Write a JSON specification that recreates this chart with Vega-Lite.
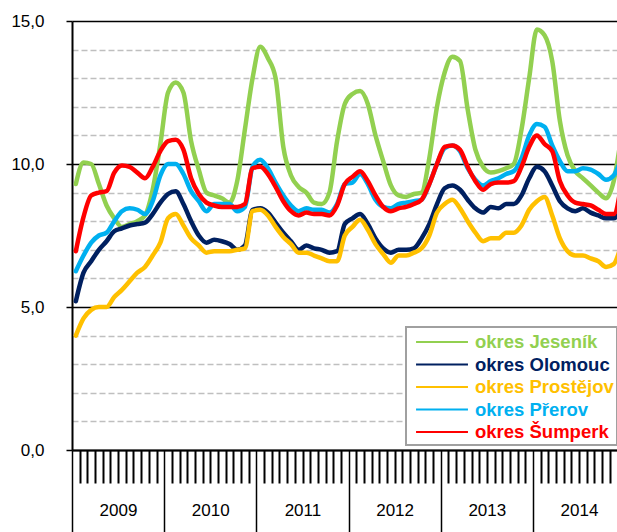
{
  "$schema": "https://vega.github.io/schema/vega-lite/v6.json",
  "width": 545,
  "height": 429,
  "autosize": {"type": "none"},
  "padding": {"left": 72, "top": 21, "right": 0, "bottom": 82},
  "background": "white",
  "data": {
    "values": [
      {"m": 1, "okres Jeseník": 9.3, "okres Olomouc": 5.2, "okres Prostějov": 4.0, "okres Přerov": 6.25, "okres Šumperk": 6.95},
      {"m": 2, "okres Jeseník": 10.05, "okres Olomouc": 6.2, "okres Prostějov": 4.6, "okres Přerov": 6.8, "okres Šumperk": 8.15},
      {"m": 3, "okres Jeseník": 10.0, "okres Olomouc": 6.6, "okres Prostějov": 4.9, "okres Přerov": 7.25, "okres Šumperk": 8.9},
      {"m": 4, "okres Jeseník": 9.3, "okres Olomouc": 7.0, "okres Prostějov": 5.0, "okres Přerov": 7.5, "okres Šumperk": 9.0},
      {"m": 5, "okres Jeseník": 8.55, "okres Olomouc": 7.3, "okres Prostějov": 5.0, "okres Přerov": 7.6, "okres Šumperk": 9.05},
      {"m": 6, "okres Jeseník": 8.1, "okres Olomouc": 7.65, "okres Prostějov": 5.35, "okres Přerov": 8.0, "okres Šumperk": 9.7},
      {"m": 7, "okres Jeseník": 7.8, "okres Olomouc": 7.75, "okres Prostějov": 5.6, "okres Přerov": 8.35, "okres Šumperk": 9.95},
      {"m": 8, "okres Jeseník": 7.9, "okres Olomouc": 7.85, "okres Prostějov": 5.9, "okres Přerov": 8.45, "okres Šumperk": 9.9},
      {"m": 9, "okres Jeseník": 8.0, "okres Olomouc": 7.9, "okres Prostějov": 6.2, "okres Přerov": 8.4, "okres Šumperk": 9.7},
      {"m": 10, "okres Jeseník": 8.2, "okres Olomouc": 7.95, "okres Prostějov": 6.4, "okres Přerov": 8.25, "okres Šumperk": 9.5},
      {"m": 11, "okres Jeseník": 9.1, "okres Olomouc": 8.25, "okres Prostějov": 6.8, "okres Přerov": 8.7, "okres Šumperk": 9.9},
      {"m": 12, "okres Jeseník": 10.7, "okres Olomouc": 8.65, "okres Prostějov": 7.25, "okres Přerov": 9.6, "okres Šumperk": 10.45},
      {"m": 13, "okres Jeseník": 12.5, "okres Olomouc": 8.95, "okres Prostějov": 8.1, "okres Přerov": 10.0, "okres Šumperk": 10.8},
      {"m": 14, "okres Jeseník": 12.85, "okres Olomouc": 9.05, "okres Prostějov": 8.25, "okres Přerov": 10.0, "okres Šumperk": 10.85},
      {"m": 15, "okres Jeseník": 12.5, "okres Olomouc": 8.6, "okres Prostějov": 7.85, "okres Přerov": 9.65, "okres Šumperk": 10.5},
      {"m": 16, "okres Jeseník": 10.8, "okres Olomouc": 8.0, "okres Prostějov": 7.4, "okres Přerov": 9.05, "okres Šumperk": 9.5},
      {"m": 17, "okres Jeseník": 9.8, "okres Olomouc": 7.5, "okres Prostějov": 7.15, "okres Přerov": 8.7, "okres Šumperk": 8.95},
      {"m": 18, "okres Jeseník": 9.0, "okres Olomouc": 7.25, "okres Prostějov": 6.9, "okres Přerov": 8.35, "okres Šumperk": 8.65},
      {"m": 19, "okres Jeseník": 8.9, "okres Olomouc": 7.35, "okres Prostějov": 6.95, "okres Přerov": 8.6, "okres Šumperk": 8.55},
      {"m": 20, "okres Jeseník": 8.8, "okres Olomouc": 7.3, "okres Prostějov": 6.95, "okres Přerov": 8.6, "okres Šumperk": 8.5},
      {"m": 21, "okres Jeseník": 8.65, "okres Olomouc": 7.2, "okres Prostějov": 6.95, "okres Přerov": 8.6, "okres Šumperk": 8.5},
      {"m": 22, "okres Jeseník": 9.4, "okres Olomouc": 7.0, "okres Prostějov": 7.0, "okres Přerov": 8.35, "okres Šumperk": 8.5},
      {"m": 23, "okres Jeseník": 11.2, "okres Olomouc": 7.15, "okres Prostějov": 7.05, "okres Přerov": 8.5, "okres Šumperk": 8.6},
      {"m": 24, "okres Jeseník": 13.0, "okres Olomouc": 8.4, "okres Prostějov": 8.35, "okres Přerov": 9.9, "okres Šumperk": 9.85},
      {"m": 25, "okres Jeseník": 14.1, "okres Olomouc": 8.45, "okres Prostějov": 8.4, "okres Přerov": 10.15, "okres Šumperk": 9.9},
      {"m": 26, "okres Jeseník": 13.7, "okres Olomouc": 8.3, "okres Prostějov": 8.2, "okres Přerov": 9.85, "okres Šumperk": 9.65},
      {"m": 27, "okres Jeseník": 13.0, "okres Olomouc": 7.95, "okres Prostějov": 7.8, "okres Přerov": 9.35, "okres Šumperk": 9.2},
      {"m": 28, "okres Jeseník": 10.6, "okres Olomouc": 7.6, "okres Prostějov": 7.45, "okres Přerov": 8.9, "okres Šumperk": 8.7},
      {"m": 29, "okres Jeseník": 9.6, "okres Olomouc": 7.3, "okres Prostějov": 7.2, "okres Přerov": 8.55, "okres Šumperk": 8.35},
      {"m": 30, "okres Jeseník": 9.2, "okres Olomouc": 7.0, "okres Prostějov": 6.9, "okres Přerov": 8.35, "okres Šumperk": 8.2},
      {"m": 31, "okres Jeseník": 9.0, "okres Olomouc": 7.15, "okres Prostějov": 6.9, "okres Přerov": 8.45, "okres Šumperk": 8.3},
      {"m": 32, "okres Jeseník": 8.65, "okres Olomouc": 7.05, "okres Prostějov": 6.8, "okres Přerov": 8.4, "okres Šumperk": 8.25},
      {"m": 33, "okres Jeseník": 8.6, "okres Olomouc": 7.0, "okres Prostějov": 6.7, "okres Přerov": 8.4, "okres Šumperk": 8.25},
      {"m": 34, "okres Jeseník": 9.0, "okres Olomouc": 6.9, "okres Prostějov": 6.6, "okres Přerov": 8.3, "okres Šumperk": 8.2},
      {"m": 35, "okres Jeseník": 10.8, "okres Olomouc": 6.95, "okres Prostějov": 6.6, "okres Přerov": 8.6, "okres Šumperk": 8.55},
      {"m": 36, "okres Jeseník": 12.1, "okres Olomouc": 7.9, "okres Prostějov": 7.5, "okres Přerov": 9.3, "okres Šumperk": 9.3},
      {"m": 37, "okres Jeseník": 12.45, "okres Olomouc": 8.1, "okres Prostějov": 7.8, "okres Přerov": 9.35, "okres Šumperk": 9.55},
      {"m": 38, "okres Jeseník": 12.55, "okres Olomouc": 8.25, "okres Prostějov": 8.05, "okres Přerov": 9.65, "okres Šumperk": 9.75},
      {"m": 39, "okres Jeseník": 12.1, "okres Olomouc": 7.9, "okres Prostějov": 7.7, "okres Přerov": 9.3, "okres Šumperk": 9.4},
      {"m": 40, "okres Jeseník": 11.0, "okres Olomouc": 7.4, "okres Prostějov": 7.2, "okres Přerov": 8.75, "okres Šumperk": 8.9},
      {"m": 41, "okres Jeseník": 10.1, "okres Olomouc": 7.05, "okres Prostějov": 6.85, "okres Přerov": 8.5, "okres Šumperk": 8.5},
      {"m": 42, "okres Jeseník": 9.25, "okres Olomouc": 6.9, "okres Prostějov": 6.55, "okres Přerov": 8.45, "okres Šumperk": 8.35},
      {"m": 43, "okres Jeseník": 8.9, "okres Olomouc": 7.0, "okres Prostějov": 6.8, "okres Přerov": 8.6, "okres Šumperk": 8.45},
      {"m": 44, "okres Jeseník": 8.85, "okres Olomouc": 7.0, "okres Prostějov": 6.8, "okres Přerov": 8.65, "okres Šumperk": 8.5},
      {"m": 45, "okres Jeseník": 8.95, "okres Olomouc": 7.05, "okres Prostějov": 6.9, "okres Přerov": 8.7, "okres Šumperk": 8.6},
      {"m": 46, "okres Jeseník": 9.0, "okres Olomouc": 7.4, "okres Prostějov": 7.05, "okres Přerov": 8.75, "okres Šumperk": 8.75},
      {"m": 47, "okres Jeseník": 10.2, "okres Olomouc": 7.9, "okres Prostějov": 7.5, "okres Přerov": 9.3, "okres Šumperk": 9.3},
      {"m": 48, "okres Jeseník": 12.0, "okres Olomouc": 8.6, "okres Prostějov": 8.3, "okres Přerov": 10.0, "okres Šumperk": 10.0},
      {"m": 49, "okres Jeseník": 13.2, "okres Olomouc": 9.15, "okres Prostějov": 8.6, "okres Přerov": 10.55, "okres Šumperk": 10.6},
      {"m": 50, "okres Jeseník": 13.75, "okres Olomouc": 9.25, "okres Prostějov": 8.75, "okres Přerov": 10.65, "okres Šumperk": 10.65},
      {"m": 51, "okres Jeseník": 13.6, "okres Olomouc": 9.1, "okres Prostějov": 8.45, "okres Přerov": 10.45, "okres Šumperk": 10.5},
      {"m": 52, "okres Jeseník": 11.9, "okres Olomouc": 8.75, "okres Prostějov": 8.0, "okres Přerov": 9.85, "okres Šumperk": 9.9},
      {"m": 53, "okres Jeseník": 10.5, "okres Olomouc": 8.45, "okres Prostějov": 7.6, "okres Přerov": 9.45, "okres Šumperk": 9.4},
      {"m": 54, "okres Jeseník": 9.9, "okres Olomouc": 8.3, "okres Prostějov": 7.3, "okres Přerov": 9.25, "okres Šumperk": 9.1},
      {"m": 55, "okres Jeseník": 9.7, "okres Olomouc": 8.5, "okres Prostějov": 7.4, "okres Přerov": 9.4, "okres Šumperk": 9.3},
      {"m": 56, "okres Jeseník": 9.75, "okres Olomouc": 8.45, "okres Prostějov": 7.4, "okres Přerov": 9.5, "okres Šumperk": 9.35},
      {"m": 57, "okres Jeseník": 9.85, "okres Olomouc": 8.6, "okres Prostějov": 7.6, "okres Přerov": 9.65, "okres Šumperk": 9.35},
      {"m": 58, "okres Jeseník": 10.0, "okres Olomouc": 8.6, "okres Prostějov": 7.6, "okres Přerov": 9.75, "okres Šumperk": 9.4},
      {"m": 59, "okres Jeseník": 11.2, "okres Olomouc": 8.9, "okres Prostějov": 7.85, "okres Přerov": 10.2, "okres Šumperk": 9.9},
      {"m": 60, "okres Jeseník": 13.0, "okres Olomouc": 9.5, "okres Prostějov": 8.4, "okres Přerov": 11.0, "okres Šumperk": 10.6},
      {"m": 61, "okres Jeseník": 14.7, "okres Olomouc": 9.9, "okres Prostějov": 8.7, "okres Přerov": 11.4, "okres Šumperk": 11.0},
      {"m": 62, "okres Jeseník": 14.5, "okres Olomouc": 9.75, "okres Prostějov": 8.85, "okres Přerov": 11.3, "okres Šumperk": 10.7},
      {"m": 63, "okres Jeseník": 13.6, "okres Olomouc": 9.25, "okres Prostějov": 8.2, "okres Přerov": 10.65, "okres Šumperk": 10.45},
      {"m": 64, "okres Jeseník": 11.5, "okres Olomouc": 8.7, "okres Prostějov": 7.4, "okres Přerov": 10.1, "okres Šumperk": 9.4},
      {"m": 65, "okres Jeseník": 10.3, "okres Olomouc": 8.45, "okres Prostějov": 6.95, "okres Přerov": 9.75, "okres Šumperk": 8.9},
      {"m": 66, "okres Jeseník": 9.75, "okres Olomouc": 8.35, "okres Prostějov": 6.8, "okres Přerov": 9.75, "okres Šumperk": 8.65},
      {"m": 67, "okres Jeseník": 9.5, "okres Olomouc": 8.45, "okres Prostějov": 6.8, "okres Přerov": 9.85, "okres Šumperk": 8.6},
      {"m": 68, "okres Jeseník": 9.25, "okres Olomouc": 8.3, "okres Prostějov": 6.7, "okres Přerov": 9.8, "okres Šumperk": 8.55},
      {"m": 69, "okres Jeseník": 9.0, "okres Olomouc": 8.2, "okres Prostějov": 6.6, "okres Přerov": 9.65, "okres Šumperk": 8.4},
      {"m": 70, "okres Jeseník": 8.8, "okres Olomouc": 8.1, "okres Prostějov": 6.4, "okres Přerov": 9.45, "okres Šumperk": 8.25},
      {"m": 71, "okres Jeseník": 9.4, "okres Olomouc": 8.1, "okres Prostějov": 6.5, "okres Přerov": 9.6, "okres Šumperk": 8.25},
      {"m": 72, "okres Jeseník": 11.0, "okres Olomouc": 8.4, "okres Prostějov": 7.2, "okres Přerov": 10.2, "okres Šumperk": 9.3}
    ]
  },
  "transform": [
    {"fold": ["okres Jeseník", "okres Olomouc", "okres Prostějov", "okres Přerov", "okres Šumperk"], "as": ["okres", "podil"]}
  ],
  "mark": {"type": "line", "strokeWidth": 4.5, "interpolate": "monotone", "clip": true, "strokeCap": "round", "strokeJoin": "round"},
  "encoding": {
    "x": {
      "field": "m",
      "type": "quantitative",
      "scale": {"domain": [0.5, 71.43], "nice": false, "zero": false},
      "axis": {
        "title": null,
        "grid": false,
        "values": [0.5, 1.5, 2.5, 3.5, 4.5, 5.5, 6.5, 7.5, 8.5, 9.5, 10.5, 11.5, 12.5, 13.5, 14.5, 15.5, 16.5, 17.5, 18.5, 19.5, 20.5, 21.5, 22.5, 23.5, 24.5, 25.5, 26.5, 27.5, 28.5, 29.5, 30.5, 31.5, 32.5, 33.5, 34.5, 35.5, 36.5, 37.5, 38.5, 39.5, 40.5, 41.5, 42.5, 43.5, 44.5, 45.5, 46.5, 47.5, 48.5, 49.5, 50.5, 51.5, 52.5, 53.5, 54.5, 55.5, 56.5, 57.5, 58.5, 59.5, 60.5, 61.5, 62.5, 63.5, 64.5, 65.5, 66.5, 67.5, 68.5, 69.5, 70.5],
        "domainColor": "black",
        "domainWidth": 2,
        "tickColor": "black",
        "tickWidth": {"condition": {"test": "(datum.value - 0.5) % 12 === 0", "value": 1.5}, "value": 2},
        "tickSize": {"condition": {"test": "(datum.value - 0.5) % 12 === 0", "value": 82}, "value": 33},
        "labelExpr": "(datum.value - 0.5) % 12 === 0 ? '' + (2009 + (datum.value - 0.5) / 12) : ''",
        "labelOffset": 46,
        "labelPadding": -30,
        "labelFont": "Liberation Sans",
        "labelFontSize": 17,
        "labelColor": "black",
        "labelOverlap": false,
        "labelBound": false,
        "labelFlush": false
      }
    },
    "y": {
      "field": "podil",
      "type": "quantitative",
      "scale": {"domain": [0, 15], "nice": false},
      "axis": {
        "title": null,
        "values": [0, 1, 2, 3, 4, 5, 6, 7, 8, 9, 10, 11, 12, 13, 14, 15],
        "grid": true,
        "gridColor": {"condition": {"test": "datum.value % 5 === 0", "value": "black"}, "value": "#BFBFBF"},
        "gridDash": {"condition": {"test": "datum.value % 5 === 0", "value": []}, "value": [6, 3]},
        "gridWidth": 1.5,
        "domainColor": "black",
        "domainWidth": 2,
        "tickColor": "black",
        "tickWidth": 1.5,
        "tickSize": 6,
        "tickOpacity": {"condition": {"test": "datum.value % 5 === 0", "value": 1}, "value": 0},
        "labelExpr": "datum.value % 5 === 0 ? replace(format(datum.value, '.1f'), '.', ',') : ''",
        "labelPadding": 22,
        "labelFont": "Liberation Sans",
        "labelFontSize": 17,
        "labelColor": "black"
      }
    },
    "color": {
      "field": "okres",
      "type": "nominal",
      "scale": {
        "domain": ["okres Jeseník", "okres Olomouc", "okres Prostějov", "okres Přerov", "okres Šumperk"],
        "range": ["#92D050", "#002060", "#FFC000", "#00B0F0", "#FF0000"]
      },
      "legend": {
        "title": null,
        "orient": "none",
        "legendX": 334,
        "legendY": 306,
        "padding": 3,
        "strokeColor": "#A0A0A0",
        "fillColor": "white",
        "symbolType": "M-0.45,0L4.27,0",
        "symbolSize": 484,
        "symbolStrokeWidth": 2,
        "labelFont": "Liberation Sans",
        "labelFontSize": 18.5,
        "labelFontWeight": "bold",
        "labelOffset": 42,
        "rowPadding": 0.5,
        "labelLimit": 300,
        "encode": {
          "labels": {"update": {"fill": {"scale": "color", "field": "value"}}},
          "legend": {"update": {"strokeWidth": {"value": 2}, "width": {"value": 240}}}
        }
      }
    }
  },
  "config": {
    "view": {"stroke": null},
    "font": "Liberation Sans"
  }
}
